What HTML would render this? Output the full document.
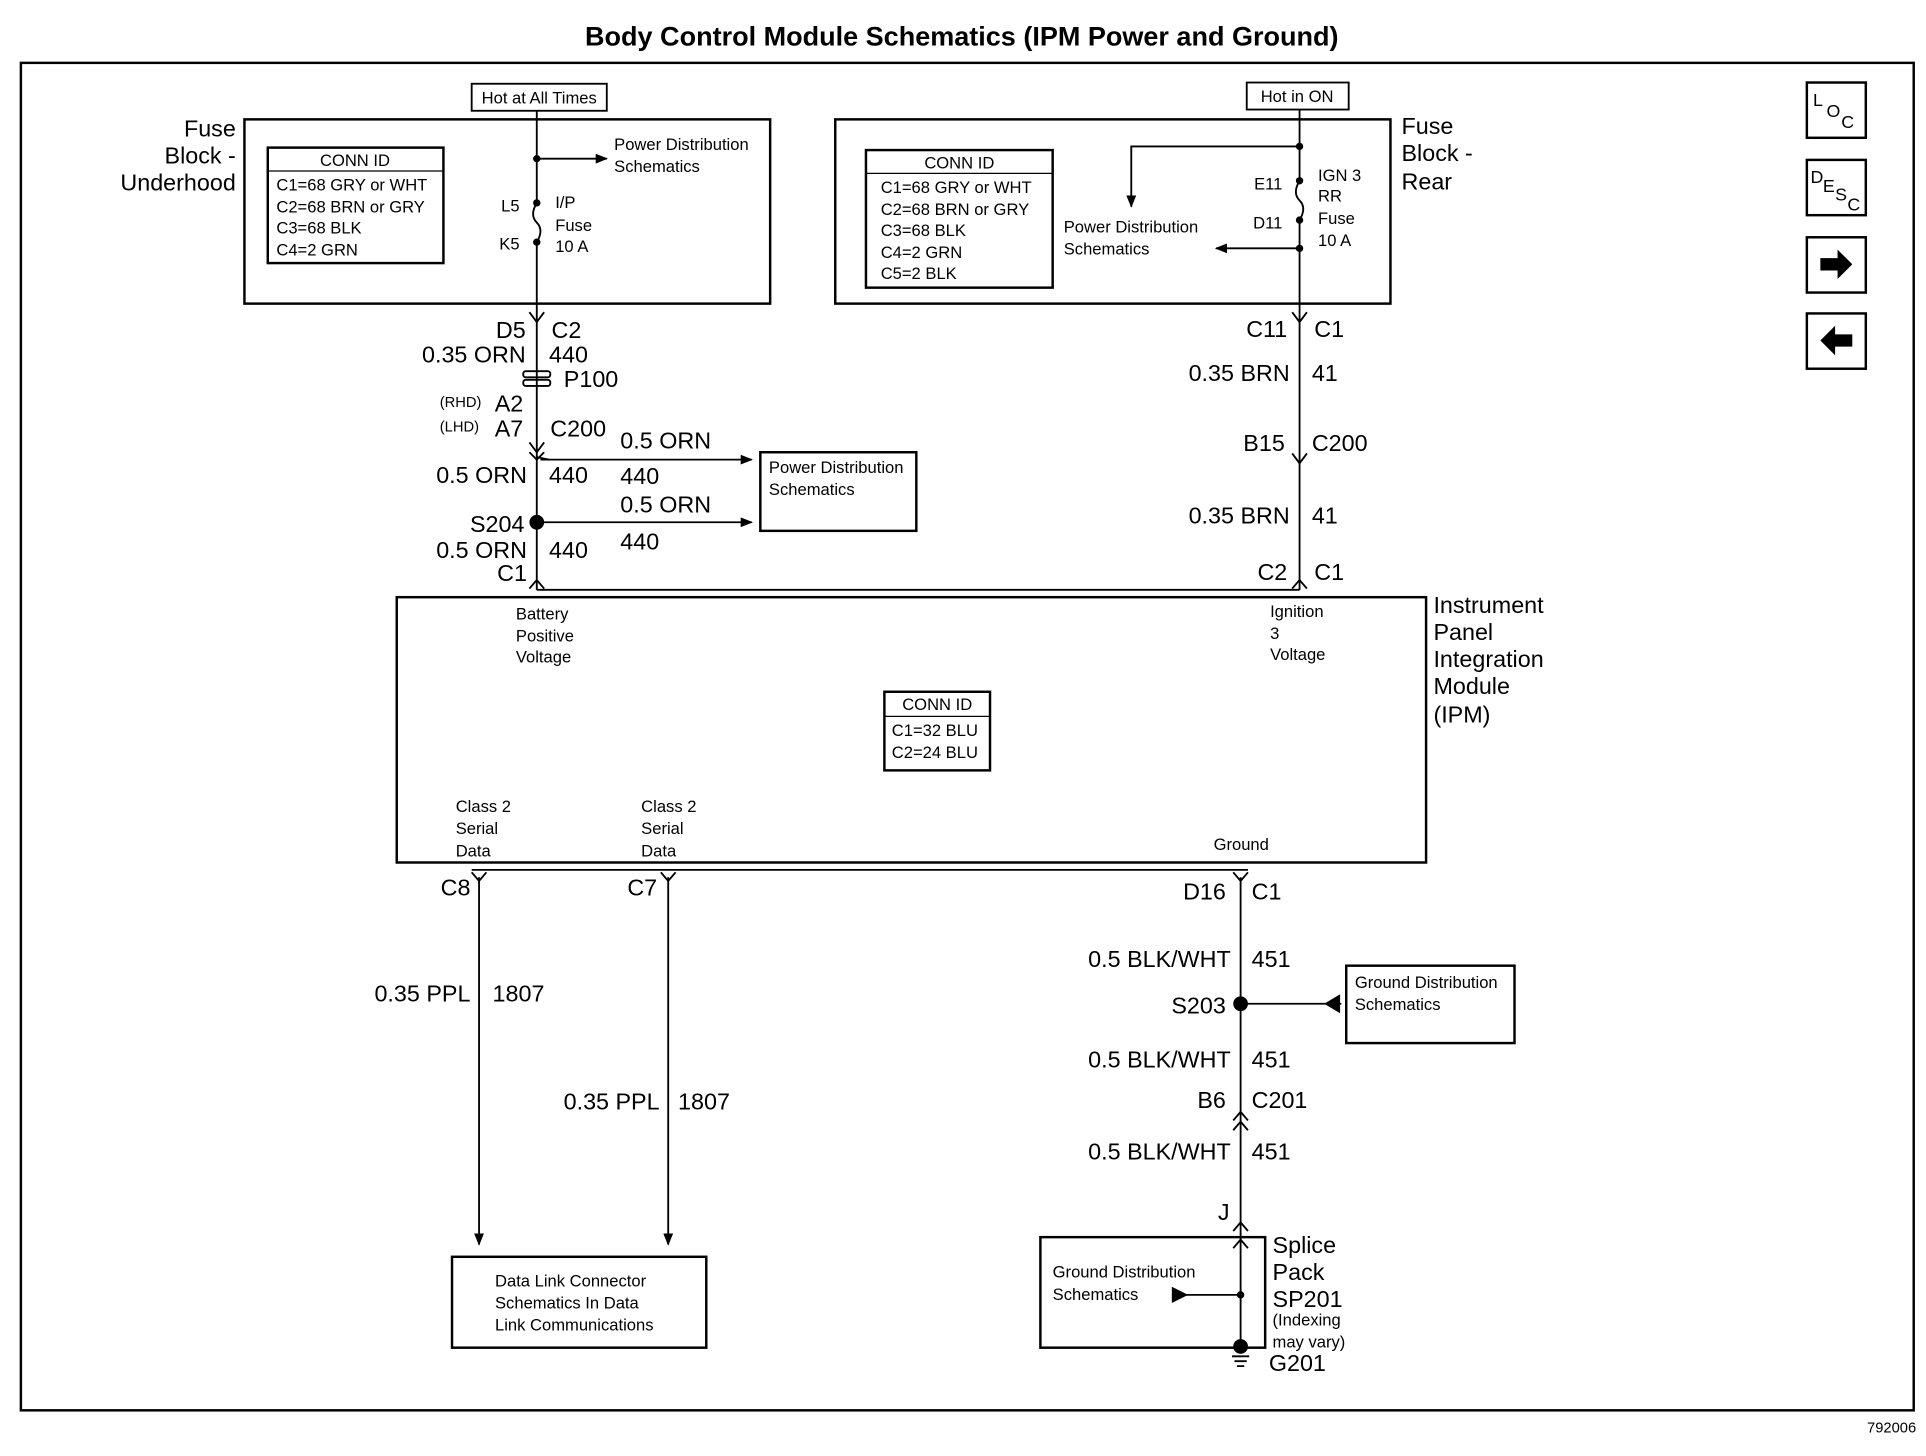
<!DOCTYPE html>
<html><head><meta charset="utf-8"><style>
html,body{margin:0;padding:0;background:#fff;}
svg{display:block;}
text{font-family:"Liberation Sans",Arial,sans-serif;fill:#000;}
.w{font-size:19px;}
.s{font-size:13.5px;}
.m{font-size:14.5px;}
.b{font-size:19px;}
</style></head><body>
<svg width="1926" height="1456" viewBox="0 0 1568 1185" xmlns="http://www.w3.org/2000/svg">
<defs><marker id="ar" markerWidth="10" markerHeight="8" refX="9" refY="4" orient="auto" markerUnits="userSpaceOnUse"><path d="M0,0 L10,4 L0,8z" fill="#000"/></marker></defs>
<g stroke="#000" fill="none" stroke-width="2">
<rect x="17" y="51" width="1541" height="1097"/>
<!-- top left fuse block -->
<rect x="199" y="97" width="428" height="150"/>
<rect x="218" y="120" width="143" height="94"/>
<line x1="218" y1="139" x2="361" y2="139" stroke-width="1"/>
<rect x="384" y="68" width="110" height="22" stroke-width="1.5"/>
<line x1="437" y1="90" x2="437" y2="165" stroke-width="1.5"/>
<path d="M437 165 q-6 10 0 16 q6 6 0 16" stroke-width="1.5"/>
<line x1="437" y1="197" x2="437" y2="480" stroke-width="1.5"/>
<line x1="437" y1="129" x2="494" y2="129" stroke-width="1.5" marker-end="url(#ar)"/>
<!-- top right fuse block -->
<rect x="680" y="97" width="452" height="150"/>
<rect x="705" y="122" width="152" height="112"/>
<line x1="705" y1="141" x2="857" y2="141" stroke-width="1"/>
<rect x="1015" y="67" width="83" height="22" stroke-width="1.5"/>
<line x1="1058" y1="89" x2="1058" y2="147" stroke-width="1.5"/>
<path d="M1058 147 q-6 10 0 16 q6 6 0 16" stroke-width="1.5"/>
<line x1="1058" y1="179" x2="1058" y2="480" stroke-width="1.5"/>
<polyline points="1058,119 921,119 921,168" stroke-width="1.5" marker-end="url(#ar)"/>
<line x1="1058" y1="202" x2="990" y2="202" stroke-width="1.5" marker-end="url(#ar)"/>
<!-- connectors -->
<path d="M431 254 L437 262 L443 254" stroke-width="1.5"/>
<path d="M1052 254 L1058 262 L1064 254" stroke-width="1.5"/>
<path d="M431 360 L437 368 L443 360 M431 368 L437 374 L443 368" stroke-width="1.5"/>
<path d="M1052 369 L1058 377 L1064 369" stroke-width="1.5"/>
<path d="M431 479 L437 472 L443 479" stroke-width="1.5"/>
<path d="M1052 479 L1058 472 L1064 479" stroke-width="1.5"/>
<line x1="437" y1="372" x2="447" y2="374" stroke-width="1.5"/>
<line x1="440" y1="374" x2="612" y2="374" stroke-width="1.5" marker-end="url(#ar)"/>
<line x1="437" y1="425" x2="612" y2="425" stroke-width="1.5" marker-end="url(#ar)"/>
<rect x="619" y="368" width="127" height="64"/>
<line x1="437" y1="480" x2="1058" y2="480" stroke-width="1.5"/>
<!-- IPM -->
<rect x="323" y="486" width="838" height="216"/>
<rect x="720" y="563" width="86" height="64"/>
<line x1="720" y1="583" x2="806" y2="583" stroke-width="1"/>
<line x1="384" y1="708" x2="1016" y2="708" stroke-width="1.5"/>
<!-- bottom wires -->
<path d="M384 710 L390 717 L396 710" stroke-width="1.5"/>
<path d="M538 710 L544 717 L550 710" stroke-width="1.5"/>
<path d="M1004 710 L1010 717 L1016 710" stroke-width="1.5"/>
<line x1="390" y1="714" x2="390" y2="1013" stroke-width="1.5" marker-end="url(#ar)"/>
<line x1="544" y1="714" x2="544" y2="1013" stroke-width="1.5" marker-end="url(#ar)"/>
<rect x="368" y="1023" width="207" height="74"/>
<line x1="1010" y1="714" x2="1010" y2="1095" stroke-width="1.5"/>
<line x1="1092" y1="817" x2="1012" y2="817" stroke-width="1.5"/>
<path d="M1080 811 L1090 817 L1080 823 z" fill="#000" transform="rotate(180 1085 817)"/>
<rect x="1096" y="786" width="137" height="63"/>
<path d="M1004 912 L1010 905 L1016 912 M1004 920 L1010 913 L1016 920" stroke-width="1.5"/>
<path d="M1004 1002 L1010 995 L1016 1002" stroke-width="1.5"/>
<path d="M1004 1016 L1010 1009 L1016 1016" stroke-width="1.5"/>
<rect x="847" y="1007" width="183" height="90"/>
<line x1="962" y1="1054" x2="1010" y2="1054" stroke-width="1.5"/>
<path d="M955 1049 L965 1054 L955 1059z" fill="#000"/>
<path d="M1003 1104 h14 M1005 1108 h10 M1007 1112 h6" stroke-width="1.5"/>
<!-- nav icons -->
<rect x="1471" y="67" width="48" height="45"/>
<rect x="1471" y="130" width="48" height="45"/>
<rect x="1471" y="193" width="48" height="45"/>
<rect x="1471" y="255" width="48" height="45"/>
</g>
<circle cx="437" cy="425" r="6"/>
<circle cx="1010" cy="817" r="6"/>
<circle cx="1010" cy="1054" r="3"/>
<circle cx="1010" cy="1096" r="6"/>
<circle cx="437" cy="129" r="3"/><circle cx="437" cy="165" r="3"/><circle cx="437" cy="197" r="3"/>
<circle cx="1058" cy="119" r="3"/><circle cx="1058" cy="147" r="3"/><circle cx="1058" cy="179" r="3"/><circle cx="1058" cy="202" r="3"/>
<path d="M1482 210 h14 v-7 l12 12 l-12 12 v-7 h-14z"/>
<path d="M1508 272 h-14 v-7 l-12 12 l12 12 v-7 h14z"/>
<!-- P100 -->
<g stroke="#000" stroke-width="1.5" fill="none"><rect x="426" y="302" width="22" height="5" rx="2"/><rect x="426" y="309" width="22" height="5" rx="2"/></g>

<text x="783" y="37" text-anchor="middle" style="font-size:22px;font-weight:bold">Body Control Module Schematics (IPM Power and Ground)</text>
<text x="1476" y="86" class="m">L</text><text x="1487" y="95" class="m">O</text><text x="1499" y="104" class="m">C</text>
<text x="1474" y="149" class="m">D</text><text x="1484" y="156" class="m">E</text><text x="1494" y="163" class="m">S</text><text x="1504" y="171" class="m">C</text>

<g class="b" text-anchor="end"><text x="192" y="111" class="b">Fuse</text><text x="192" y="133" class="b">Block -</text><text x="192" y="155" class="b">Underhood</text></g>
<text x="1141" y="109" class="b">Fuse</text><text x="1141" y="131" class="b">Block -</text><text x="1141" y="154" class="b">Rear</text>
<text x="439" y="84" class="s" text-anchor="middle">Hot at All Times</text>
<text x="1056" y="83" class="s" text-anchor="middle">Hot in ON</text>
<g class="s"><text x="289" y="135" text-anchor="middle">CONN ID</text><text x="225" y="155">C1=68 GRY or WHT</text><text x="225" y="173">C2=68 BRN or GRY</text><text x="225" y="190">C3=68 BLK</text><text x="225" y="208">C4=2 GRN</text>
<text x="781" y="137" text-anchor="middle">CONN ID</text><text x="717" y="157">C1=68 GRY or WHT</text><text x="717" y="175">C2=68 BRN or GRY</text><text x="717" y="192">C3=68 BLK</text><text x="717" y="210">C4=2 GRN</text><text x="717" y="227">C5=2 BLK</text>
<text x="500" y="122">Power Distribution</text><text x="500" y="140">Schematics</text>
<text x="423" y="172" text-anchor="end">L5</text><text x="423" y="203" text-anchor="end">K5</text>
<text x="452" y="169">I/P</text><text x="452" y="188">Fuse</text><text x="452" y="205">10 A</text>
<text x="866" y="189">Power Distribution</text><text x="866" y="207">Schematics</text>
<text x="1044" y="154" text-anchor="end">E11</text><text x="1044" y="186" text-anchor="end">D11</text>
<text x="1073" y="147">IGN 3</text><text x="1073" y="164">RR</text><text x="1073" y="182">Fuse</text><text x="1073" y="200">10 A</text>
<text x="626" y="385">Power Distribution</text><text x="626" y="403">Schematics</text>
<text x="420" y="504">Battery</text><text x="420" y="522">Positive</text><text x="420" y="539">Voltage</text>
<text x="1034" y="502">Ignition</text><text x="1034" y="520">3</text><text x="1034" y="537">Voltage</text>
<text x="763" y="578" text-anchor="middle">CONN ID</text><text x="726" y="599">C1=32 BLU</text><text x="726" y="617">C2=24 BLU</text>
<text x="371" y="661">Class 2</text><text x="371" y="679">Serial</text><text x="371" y="697">Data</text>
<text x="522" y="661">Class 2</text><text x="522" y="679">Serial</text><text x="522" y="697">Data</text>
<text x="988" y="692">Ground</text>
<text x="1103" y="804">Ground Distribution</text><text x="1103" y="822">Schematics</text>
<text x="403" y="1047">Data Link Connector</text><text x="403" y="1065">Schematics In Data</text><text x="403" y="1083">Link Communications</text>
<text x="857" y="1040">Ground Distribution</text><text x="857" y="1058">Schematics</text>
<text x="358" y="331" style="font-size:12px">(RHD)</text><text x="358" y="351" style="font-size:12px">(LHD)</text>
<text x="1036" y="1079">(Indexing</text><text x="1036" y="1097">may vary)</text>
<text x="1520" y="1166" style="font-size:12px">792006</text>
</g>
<g class="w">
<text x="428" y="275" text-anchor="end">D5</text><text x="449" y="275">C2</text>
<text x="428" y="295" text-anchor="end">0.35 ORN</text><text x="447" y="295">440</text>
<text x="459" y="315">P100</text>
<text x="426" y="335" text-anchor="end">A2</text><text x="426" y="355" text-anchor="end">A7</text><text x="448" y="355">C200</text>
<text x="505" y="365">0.5 ORN</text><text x="505" y="394">440</text><text x="505" y="417">0.5 ORN</text><text x="505" y="447">440</text>
<text x="429" y="393" text-anchor="end">0.5 ORN</text><text x="447" y="393">440</text>
<text x="427" y="433" text-anchor="end">S204</text>
<text x="429" y="454" text-anchor="end">0.5 ORN</text><text x="447" y="454">440</text>
<text x="429" y="473" text-anchor="end">C1</text>
<text x="1048" y="274" text-anchor="end">C11</text><text x="1070" y="274">C1</text>
<text x="1050" y="310" text-anchor="end">0.35 BRN</text><text x="1068" y="310">41</text>
<text x="1046" y="367" text-anchor="end">B15</text><text x="1068" y="367">C200</text>
<text x="1050" y="426" text-anchor="end">0.35 BRN</text><text x="1068" y="426">41</text>
<text x="1048" y="472" text-anchor="end">C2</text><text x="1070" y="472">C1</text>
<text x="1167" y="499">Instrument</text><text x="1167" y="521">Panel</text><text x="1167" y="543">Integration</text><text x="1167" y="565">Module</text><text x="1167" y="588">(IPM)</text>
<text x="383" y="729" text-anchor="end">C8</text><text x="535" y="729" text-anchor="end">C7</text>
<text x="998" y="732" text-anchor="end">D16</text><text x="1019" y="732">C1</text>
<text x="383" y="815" text-anchor="end">0.35 PPL</text><text x="401" y="815">1807</text>
<text x="537" y="903" text-anchor="end">0.35 PPL</text><text x="552" y="903">1807</text>
<text x="1002" y="787" text-anchor="end">0.5 BLK/WHT</text><text x="1019" y="787">451</text>
<text x="998" y="825" text-anchor="end">S203</text>
<text x="1002" y="869" text-anchor="end">0.5 BLK/WHT</text><text x="1019" y="869">451</text>
<text x="998" y="902" text-anchor="end">B6</text><text x="1019" y="902">C201</text>
<text x="1002" y="944" text-anchor="end">0.5 BLK/WHT</text><text x="1019" y="944">451</text>
<text x="1001" y="993" text-anchor="end">J</text>
<text x="1036" y="1020">Splice</text><text x="1036" y="1042">Pack</text><text x="1036" y="1064">SP201</text>
<text x="1033" y="1116">G201</text>
</g>
</svg>
</body></html>
